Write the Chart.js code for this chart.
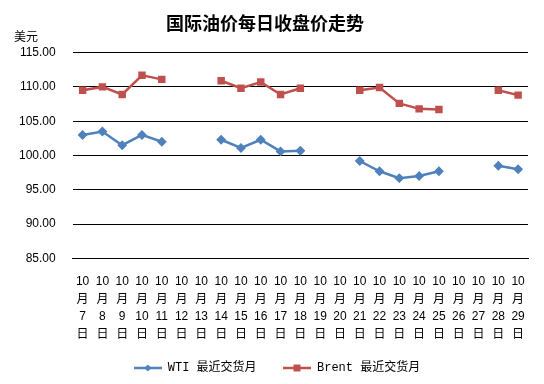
<!DOCTYPE html>
<html>
<head>
<meta charset="utf-8">
<script src="https://cdn.jsdelivr.net/npm/chart.js@4"></script>
<style>
  body { margin: 0; background: #fff; }
  #wrap { width: 544px; height: 384px; }
</style>
</head>
<body>
<div id="wrap"><canvas id="myChart" width="544" height="384"></canvas></div>
<script>
// data
const days = ['7','8','9','10','11','12','13','14','15','16','17','18','19','20','21','22','23','24','25','26','27','28','29'];
const wti = [103.0, 103.5, 101.5, 103.0, 102.0, null, null, 102.3, 101.1, 102.3, 100.6, 100.7, null, null,
             99.2, 97.7, 96.7, 97.0, 97.7, null, null, 98.5, 98.0];
const brent = [109.5, 110.0, 108.9, 111.7, 111.1, null, null, 110.9, 109.8, 110.7, 108.9, 109.8, null, null,
               109.5, 109.9, 107.6, 106.8, 106.7, null, null, 109.5, 108.8];
const yTicks = [85, 90, 95, 100, 105, 110, 115];

const labels = days.map(d => ['10', '月', d, '日']);

// little line+marker pictures for the legend
function legendIcon(color, shape) {
    const c = document.createElement('canvas');
    c.width = 28; c.height = 10;
    const g = c.getContext('2d');
    g.strokeStyle = color;
    g.lineWidth = 2.5;
    g.beginPath(); g.moveTo(0, 5); g.lineTo(28, 5); g.stroke();
    g.fillStyle = color;
    if (shape === 'rect') {
        g.fillRect(10.5, 1.5, 7, 7);
    } else {
        g.beginPath();
        g.moveTo(14, 1.5); g.lineTo(17.5, 5); g.lineTo(14, 8.5); g.lineTo(10.5, 5); g.closePath();
        g.fill();
    }
    return c;
}

const unitLabel = {
    id: 'unitLabel',
    afterLayout(chart) {
        // legend sits a bit right of centre in the original
        if (chart.legend) {
            chart.legend.left += 12;
            chart.legend.right += 12;
        }
    },
    afterDraw(chart) {
        const c = chart.ctx;
        c.save();
        c.fillStyle = '#000';
        c.font = '12px "Noto Sans CJK SC", sans-serif';
        c.textBaseline = 'middle';
        c.fillText('美元', 14, chart.chartArea.top - 16);
        c.restore();
    }
};

const ctx = document.getElementById('myChart').getContext('2d');
const myChart = new Chart(ctx, {
    type: 'line',
    data: {
        labels: labels,
        datasets: [{
            label: 'WTI 最近交货月',
            data: wti,
            borderColor: '#4F81BD',
            backgroundColor: '#4F81BD',
            borderWidth: 2.5,
            pointStyle: 'rectRot',
            pointRadius: 3.2,
            pointHoverRadius: 3.2,
            tension: 0,
            spanGaps: false
        }, {
            label: 'Brent 最近交货月',
            data: brent,
            borderColor: '#C0504D',
            backgroundColor: '#C0504D',
            borderWidth: 2.5,
            pointStyle: 'rect',
            pointRadius: 3.5,
            pointHoverRadius: 3.5,
            tension: 0,
            spanGaps: false
        }]
    },
    options: {
        responsive: false,
        animation: false,
        layout: { padding: { top: 12, right: 16, left: 2, bottom: 0 } },
        plugins: {
            title: {
                display: true,
                text: '国际油价每日收盘价走势',
                color: '#000',
                font: { family: '"Noto Sans CJK SC", sans-serif', size: 18, weight: 'bold' },
                padding: { top: 0, bottom: 19 }
            },
            legend: {
                position: 'bottom',
                labels: {
                    usePointStyle: true,
                    pointStyleWidth: 28,
                    padding: 12,
                    color: '#000',
                    font: { family: '"Liberation Mono", "Noto Sans CJK SC", monospace', size: 12 },
                    generateLabels(chart) {
                        return chart.data.datasets.map((ds, i) => ({
                            // trailing spaces only widen the gap between the two entries
                            text: i === 0 ? ds.label + '  ' : ds.label,
                            pointStyle: legendIcon(ds.borderColor, i === 0 ? 'rectRot' : 'rect'),
                            fillStyle: ds.borderColor,
                            strokeStyle: ds.borderColor,
                            lineWidth: 0,
                            datasetIndex: i
                        }));
                    }
                }
            },
            tooltip: { enabled: false }
        },
        scales: {
            x: {
                offset: true,
                grid: { display: false },
                border: { color: '#000' },
                ticks: {
                    color: '#000',
                    maxRotation: 0,
                    autoSkip: false,
                    padding: 7,
                    font: { family: 'Arial, "Liberation Sans", "Noto Sans CJK SC", sans-serif', size: 12, lineHeight: 1.45 }
                }
            },
            y: {
                min: 85,
                max: 115,
                afterBuildTicks(axis) { axis.ticks = yTicks.map(v => ({ value: v })); },
                grid: { color: '#000', lineWidth: 1, drawTicks: false },
                border: { display: false },
                ticks: {
                    color: '#000',
                    padding: 17,
                    font: { family: 'Arial, "Liberation Sans", sans-serif', size: 12 },
                    callback: v => Number(v).toFixed(2)
                }
            }
        }
    },
    plugins: [unitLabel]
});
</script>
</body>
</html>
